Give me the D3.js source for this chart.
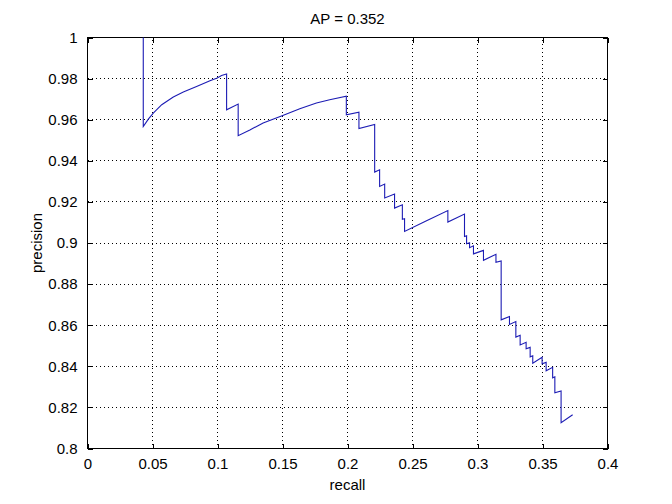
<!DOCTYPE html>
<html>
<head>
<meta charset="utf-8">
<script src="https://cdn.jsdelivr.net/npm/d3@7"></script>
<style>
  html, body { margin: 0; padding: 0; background: #ffffff; }
  svg { display: block; }
  text { font-family: "Liberation Sans", Arial, Helvetica, sans-serif; fill: #000; }
</style>
</head>
<body>
<svg id="chart" width="672" height="504"></svg>
<script>
// ---- data ----
const titleText = "AP = 0.352";
const xLabel = "recall";
const yLabel = "precision";
const xTicks = [0, 0.05, 0.1, 0.15, 0.2, 0.25, 0.3, 0.35, 0.4];
const xTickLabels = ["0", "0.05", "0.1", "0.15", "0.2", "0.25", "0.3", "0.35", "0.4"];
const yTicks = [0.8, 0.82, 0.84, 0.86, 0.88, 0.9, 0.92, 0.94, 0.96, 0.98, 1];
const yTickLabels = ["0.8", "0.82", "0.84", "0.86", "0.88", "0.9", "0.92", "0.94", "0.96", "0.98", "1"];

const recall = [
  0.0429, 0.0429, 0.0468, 0.0506, 0.0571, 0.0660, 0.0737, 0.0839, 0.0942, 0.0998,
  0.1031, 0.1070, 0.1070, 0.1159, 0.1159, 0.1249, 0.1351, 0.1497, 0.1633, 0.1761,
  0.1863, 0.1991, 0.1991, 0.2088, 0.2088, 0.2209, 0.2209, 0.2247, 0.2247, 0.2286,
  0.2286, 0.2362, 0.2362, 0.2422, 0.2422, 0.2439, 0.2439, 0.2600, 0.2772, 0.2772,
  0.2900, 0.2900, 0.2916, 0.2916, 0.2939, 0.2939, 0.2969, 0.2969, 0.3046, 0.3046,
  0.3142, 0.3142, 0.3182, 0.3182, 0.3246, 0.3246, 0.3295, 0.3295, 0.3328, 0.3328,
  0.3374, 0.3374, 0.3405, 0.3405, 0.3425, 0.3425, 0.3497, 0.3497, 0.3528, 0.3528,
  0.3578, 0.3578, 0.3595, 0.3595, 0.3643, 0.3643, 0.3732
];
const precision = [
  1.0000, 0.9567, 0.9603, 0.9632, 0.9673, 0.9710, 0.9735, 0.9762, 0.9790, 0.9803,
  0.9815, 0.9822, 0.9648, 0.9676, 0.9522, 0.9550, 0.9584, 0.9619, 0.9653, 0.9681,
  0.9697, 0.9714, 0.9624, 0.9637, 0.9557, 0.9577, 0.9345, 0.9356, 0.9275, 0.9287,
  0.9219, 0.9238, 0.9170, 0.9186, 0.9115, 0.9118, 0.9056, 0.9106, 0.9158, 0.9102,
  0.9141, 0.9032, 0.9035, 0.8996, 0.9001, 0.8977, 0.8986, 0.8947, 0.8964, 0.8916,
  0.8945, 0.8906, 0.8913, 0.8626, 0.8642, 0.8604, 0.8618, 0.8542, 0.8551, 0.8504,
  0.8517, 0.8485, 0.8492, 0.8446, 0.8451, 0.8415, 0.8444, 0.8412, 0.8419, 0.8378,
  0.8395, 0.8344, 0.8349, 0.8271, 0.8280, 0.8125, 0.8164
];

// ---- layout ----
const svg = d3.select("#chart");
const W = 672, H = 504;
svg.append("rect").attr("width", W).attr("height", H).attr("fill", "#ffffff");

const x = d3.scaleLinear().domain([0, 0.4]).range([87.5, 607.5]);
const y = d3.scaleLinear().domain([0.8, 1]).range([448.5, 37.5]);
const x0 = x.range()[0], x1 = x.range()[1];
const y0 = y.range()[0], y1 = y.range()[1];
const FS = 15;

// grid
const grid = svg.append("g").attr("stroke", "#000").attr("stroke-width", 1)
  .attr("stroke-dasharray", "1,3").attr("shape-rendering", "crispEdges");
xTicks.slice(1, -1).forEach(t => {
  grid.append("line").attr("x1", x(t)).attr("x2", x(t)).attr("y1", y0).attr("y2", y1);
});
yTicks.slice(1, -1).forEach(t => {
  grid.append("line").attr("x1", x0).attr("x2", x1).attr("y1", y(t)).attr("y2", y(t));
});

// axes via d3 axis generators (ticks inward), mirrored on top/right
const TL = 5;
const axB = d3.axisBottom(x).tickValues(xTicks).tickFormat((d, i) => xTickLabels[i])
  .tickSizeInner(-TL).tickSizeOuter(0).tickPadding(TL + 5);
const axL = d3.axisLeft(y).tickValues(yTicks).tickFormat((d, i) => yTickLabels[i])
  .tickSizeInner(-TL).tickSizeOuter(0).tickPadding(TL + 5);
const axT = d3.axisTop(x).tickValues(xTicks).tickFormat("").tickSizeInner(-TL).tickSizeOuter(0);
const axR = d3.axisRight(y).tickValues(yTicks).tickFormat("").tickSizeInner(-TL).tickSizeOuter(0);

function styleAxis(g) {
  g.selectAll("path").remove();
  g.selectAll("line").attr("stroke", "#000").attr("shape-rendering", "crispEdges");
  g.selectAll("text").attr("font-size", FS).attr("fill", "#000")
    .attr("font-family", "'Liberation Sans', Arial, sans-serif");
  g.attr("font-size", null).attr("font-family", null);
}
svg.append("g").attr("transform", `translate(0,${y0})`).call(axB).call(styleAxis)
  .selectAll("text").attr("dy", "0.71em");
svg.append("g").attr("transform", `translate(${x0},0)`).call(axL).call(styleAxis);
svg.append("g").attr("transform", `translate(0,${y1})`).call(axT).call(styleAxis);
svg.append("g").attr("transform", `translate(${x1},0)`).call(axR).call(styleAxis);

// box
svg.append("rect").attr("x", x0).attr("y", y1).attr("width", x1 - x0).attr("height", y0 - y1)
  .attr("fill", "none").attr("stroke", "#000").attr("stroke-width", 1)
  .attr("shape-rendering", "crispEdges");

// PR curve
const pts = recall.map((r, i) => [r, precision[i]]);
const line = d3.line().x(d => x(d[0])).y(d => y(d[1]));
svg.append("path").datum(pts).attr("d", line)
  .attr("fill", "none").attr("stroke", "#1c1cb4").attr("stroke-width", 1.1)
  .attr("stroke-linejoin", "miter");

// labels
svg.append("text").attr("x", (x0 + x1) / 2).attr("y", 24).attr("text-anchor", "middle")
  .attr("font-size", FS).text(titleText);
svg.append("text").attr("x", (x0 + x1) / 2).attr("y", 490).attr("text-anchor", "middle")
  .attr("font-size", FS).text(xLabel);
svg.append("text").attr("transform", `translate(42,${(y0 + y1) / 2}) rotate(-90)`)
  .attr("text-anchor", "middle").attr("font-size", FS).text(yLabel);
</script>
</body>
</html>
